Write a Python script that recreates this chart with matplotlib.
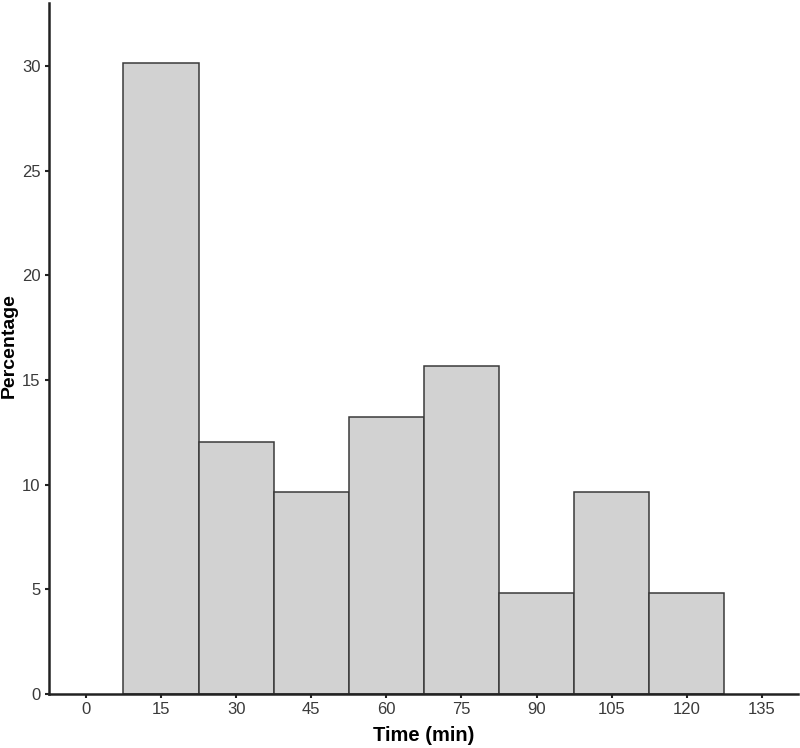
import matplotlib
matplotlib.use("Agg")
import matplotlib.pyplot as plt
import numpy as np

plt.rcParams['font.family'] = ['Liberation Sans', 'DejaVu Sans']

bin_centers = [15, 30, 45, 60, 75, 90, 105, 120]
counts = [25, 10, 8, 11, 13, 4, 8, 4]
total = sum(counts)
percentages = [c / total * 100 for c in counts]
x_ticks = [0, 15, 30, 45, 60, 75, 90, 105, 120, 135]
y_ticks = [0, 5, 10, 15, 20, 25, 30]

fig = plt.figure(figsize=(8.0, 7.48), dpi=100)
ax = fig.add_axes([0.061, 0.072, 0.937, 0.924])

ax.bar(bin_centers, percentages, width=15, color='#d2d2d2', edgecolor='#3a3a3a', linewidth=1.1)

ax.set_xlim(-7.4, 142.3)
ax.set_ylim(0, 33.0)
ax.set_xticks(x_ticks)
ax.set_yticks(y_ticks)
ax.tick_params(axis='both', direction='out', length=3, width=1.5, color='#222222',
               labelsize=12, labelcolor='#3a3a3a', pad=3)
for s in ['top', 'right']:
    ax.spines[s].set_visible(False)
for s in ['left', 'bottom']:
    ax.spines[s].set_linewidth(1.8)
    ax.spines[s].set_color('#222222')

ax.set_xlabel('Time (min)', fontsize=14.5, fontweight='bold')
ax.set_ylabel('Percentage', fontsize=14, fontweight='bold')
ax.xaxis.set_label_coords(0.5, -0.046)
ax.yaxis.set_label_coords(-0.041, 0.505)

fig.savefig('out.png', dpi=100)
